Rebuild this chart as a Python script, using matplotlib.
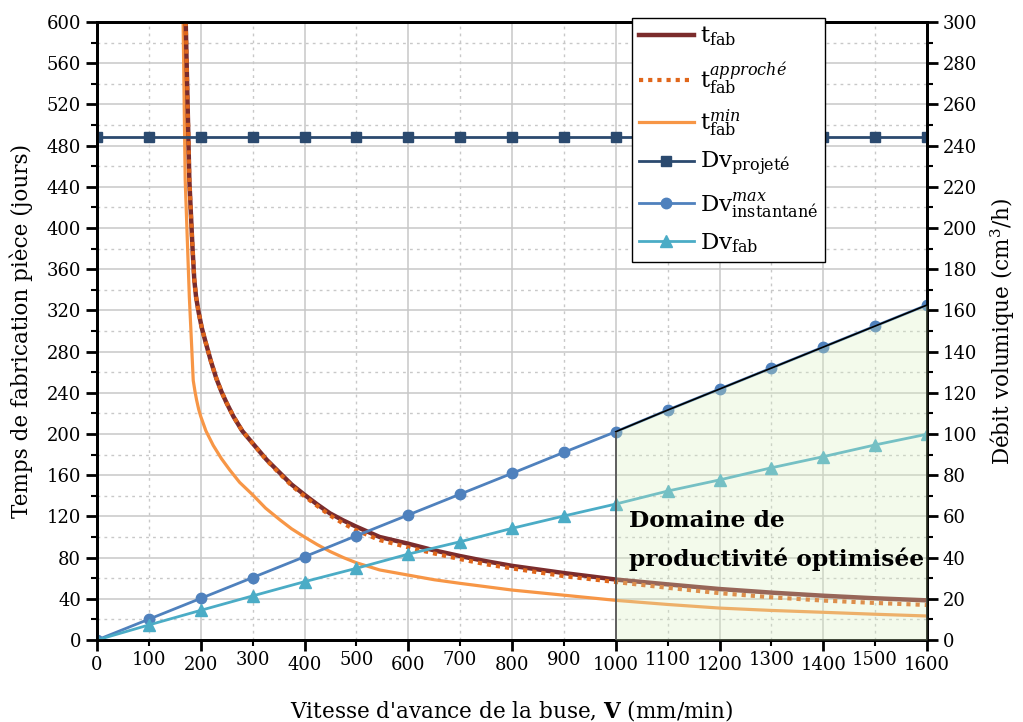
import matplotlib
matplotlib.use('Agg')
import matplotlib.pyplot as plt
import numpy as np

plt.rcParams['font.family'] = 'DejaVu Serif'
plt.rcParams['mathtext.fontset'] = 'dejavuserif'

# vitesse des points de mesure (mm/min)
V = [0, 100, 200, 300, 400, 500, 600, 700, 800, 900, 1000,
     1100, 1200, 1300, 1400, 1500, 1600]
# débits volumiques (cm3/h), axe de droite
dv_projete = [244, 244, 244, 244, 244, 244, 244, 244, 244, 244, 244,
              244, 244, 244, 244, 244, 244]
dv_max = [0, 10.1, 20.2, 30.3, 40.4, 50.6, 60.7, 70.8, 80.9, 91.1, 101.1,
          111.6, 121.8, 132.0, 142.2, 152.4, 162.6]
dv_fab = [0, 7.3, 14.4, 21.4, 28.3, 34.8, 41.7, 47.7, 54.2, 60.2, 66.0,
          72.3, 77.7, 83.6, 89.0, 94.7, 99.9]

# temps de fabrication (jours), axe de gauche
V_tfab = [171, 178, 181, 184, 187.5, 191, 196, 202, 210, 220, 230, 240, 250,
          263, 280, 300, 327, 353, 375, 400, 425, 449, 475, 500, 545,
          600, 650, 700, 750, 800, 900, 1000, 1100, 1200,
          1300, 1400, 1500, 1600]
t_fab = [600, 447, 414, 382, 350, 333, 318, 303, 288, 270, 254, 241, 230,
         217, 203, 191, 175, 162, 151, 141, 131.5, 123, 116, 110, 100,
         93.5, 87, 81.5, 76.5, 72, 65, 58.7, 54, 49.5,
         46, 43, 40.5, 38.5]
t_appr = [600, 447, 414, 382, 350, 333, 318, 303, 288, 270, 254, 241, 230,
          217, 203, 191, 174.5, 161, 150, 139.5, 130, 121, 113, 106.5, 97,
          90, 84, 78.5, 73.5, 69.5, 62, 56.3, 50.7, 45.5,
          41.5, 38.3, 36, 34]

V_tmin = [166, 170, 174, 178, 182.5, 185.5, 189, 192, 196, 200, 210, 224, 240,
          256, 275, 300, 325, 353, 375, 400, 425, 449, 475, 500, 545,
          600, 650, 700, 800, 900, 1000, 1100, 1200,
          1300, 1400, 1500, 1600]
t_min = [600, 447, 390, 333, 285, 252, 241, 233, 224, 217, 203, 189, 176,
         165, 153, 141, 128, 116.5, 108, 100, 92.5, 86, 80, 75, 68,
         63, 58.5, 55, 48.5, 43.5, 38.5, 34.5, 31,
         28.7, 26.9, 25, 23.3]

fig = plt.figure(figsize=(10.23, 7.22), dpi=100)
ax = fig.add_axes([97/1023, 1-640/722, 830/1023, 618/722])
ax2 = ax.twinx()

l1, = ax.plot(V_tfab, t_fab, color='#7b2c2c', lw=3.2, zorder=3)
l2, = ax.plot(V_tfab, t_appr, color='#e0661a', lw=3, ls=(0, (1, 1.2)), zorder=4)
l3, = ax.plot(V_tmin, t_min, color='#f79646', lw=2.3, zorder=2)

l4, = ax2.plot(V, dv_projete, color='#2b4a6f', lw=2, marker='s', ms=7, zorder=2)
l5, = ax2.plot(V, dv_max, color='#4f81bd', lw=2, marker='o', ms=7.5, zorder=2)
l6, = ax2.plot(V, dv_fab, color='#4bacc6', lw=2, marker='^', ms=8, zorder=2)

# domaine de productivité optimisée
ax2.fill_between(V[10:], 0, dv_max[10:], color='#d8efc0', alpha=0.3, lw=0, zorder=5)
ax2.plot(V[10:], dv_max[10:], color='black', lw=1.2, zorder=6)
ax2.vlines(V[10], 0, dv_max[10], color='#555555', lw=1.3, zorder=6)
ax2.text(1025, 48.3, 'Domaine de\nproductivité optimisée', fontsize=16.8,
         fontweight='bold', ha='left', va='center', linespacing=1.85, zorder=10)

ax.set_xlim(0, 1600)
ax.set_ylim(0, 600)
ax2.set_ylim(0, 300)

ax.set_xticks(np.arange(0, 1601, 200))
ax.set_xticks(np.arange(100, 1600, 200), labels=[str(v) for v in range(100, 1600, 200)], minor=True)
ax.set_yticks(np.arange(0, 601, 40))
ax.set_yticks(np.arange(20, 600, 40), minor=True)
ax2.set_yticks(np.arange(0, 301, 20))
ax2.set_yticks(np.arange(10, 300, 20), minor=True)

ax.grid(which='major', color='#c8c8c8', lw=1.1, ls='-')
ax.grid(which='minor', color='#c8c8c8', lw=1.0, ls=(0, (2, 3)))
ax.set_axisbelow(True)

for a in (ax, ax2):
    for s in a.spines.values():
        s.set_linewidth(2)
    a.tick_params(which='major', length=8, width=2, direction='out', labelsize=13)
    a.tick_params(which='minor', length=4.5, width=1.5, direction='out', labelsize=13)

ax.set_xlabel(r"Vitesse d'avance de la buse, $\mathbf{V}$ (mm/min)", fontsize=15.5, labelpad=17)
ax.set_ylabel('Temps de fabrication pièce (jours)', fontsize=15.5, labelpad=10)
ax2.set_ylabel(r'Débit volumique (cm$^3$/h)', fontsize=15.5, labelpad=8)

handles = [l1, l2, l3, l4, l5, l6]
labels = [r'$\mathrm{t}_{\mathrm{fab}}$',
          r'$\mathrm{t}_{\mathrm{fab}}^{\mathit{approché}}$',
          r'$\mathrm{t}_{\mathrm{fab}}^{\mathit{min}}$',
          r'$\mathrm{Dv}_{\mathrm{projeté}}$',
          r'$\mathrm{Dv}_{\mathrm{instantané}}^{\mathit{max}}$',
          r'$\mathrm{Dv}_{\mathrm{fab}}$']
leg = ax2.legend(handles, labels, loc='upper left',
                 bbox_to_anchor=(632/1023, 1-18/722), bbox_transform=fig.transFigure,
                 fancybox=False, edgecolor='black', framealpha=1, fontsize=16.5,
                 handlelength=2.4, labelspacing=0.5, borderpad=0.3,
                 handletextpad=0.25, borderaxespad=0)
leg.get_frame().set_linewidth(1)
leg.set_zorder(20)

fig.savefig('out.png', dpi=100)
